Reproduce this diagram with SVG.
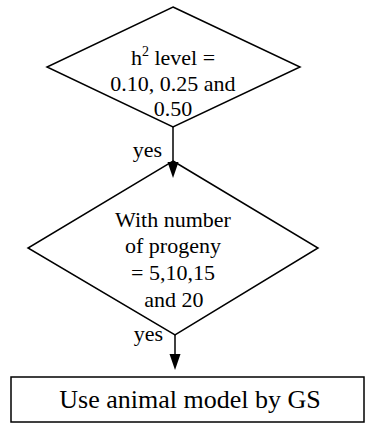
<svg xmlns="http://www.w3.org/2000/svg" width="365" height="432" viewBox="0 0 365 432">
  <style>
    .shape { fill: #fff; stroke: #000; stroke-width: 1.5; }
    .edge { fill: none; stroke: #000; stroke-width: 1.5; }
    .head { fill: #000; stroke: none; }
    .lbl { font-size: 22px; text-anchor: middle; }
    .box { font-size: 26px; text-anchor: middle; }
    .yes { font-size: 22px; text-anchor: end; }
  </style>

  <g font-family="'Liberation Serif', 'Times New Roman', serif" fill="#000">
    <!-- decision: heritability levels -->
    <g id="decision-h2">
      <polygon class="shape" points="173,7 300,67 173,127 47,67"/>
      <text class="lbl" x="173" y="65">h<tspan dy="-9" font-size="14">2</tspan><tspan dy="9"> level =</tspan></text>
      <text class="lbl" x="173" y="91">0.10, 0.25 and</text>
      <text class="lbl" x="173" y="116">0.50</text>
    </g>

    <!-- decision: number of progeny -->
    <g id="decision-progeny">
      <polygon class="shape" points="173,161 318,248 175,335 28,248"/>
      <text class="lbl" x="173" y="227">With number</text>
      <text class="lbl" x="173" y="253">of progeny</text>
      <text class="lbl" x="173" y="280">= 5,10,15</text>
      <text class="lbl" x="174" y="307">and 20</text>
    </g>

    <!-- process: animal model -->
    <g id="process-gs">
      <rect class="shape" x="11" y="377" width="353" height="45"/>
      <text class="box" x="190" y="408">Use animal model by GS</text>
    </g>

    <!-- connectors -->
    <g id="connectors">
      <line class="edge" x1="173" y1="127" x2="173" y2="164"/>
      <polygon class="head" points="167.5,162 178.5,162 173,178"/>
      <text class="yes" x="162" y="157">yes</text>

      <line class="edge" x1="175" y1="335" x2="175" y2="356"/>
      <polygon class="head" points="169.5,354 180.5,354 175,370"/>
      <text class="yes" x="163" y="341">yes</text>
    </g>
  </g>
</svg>
